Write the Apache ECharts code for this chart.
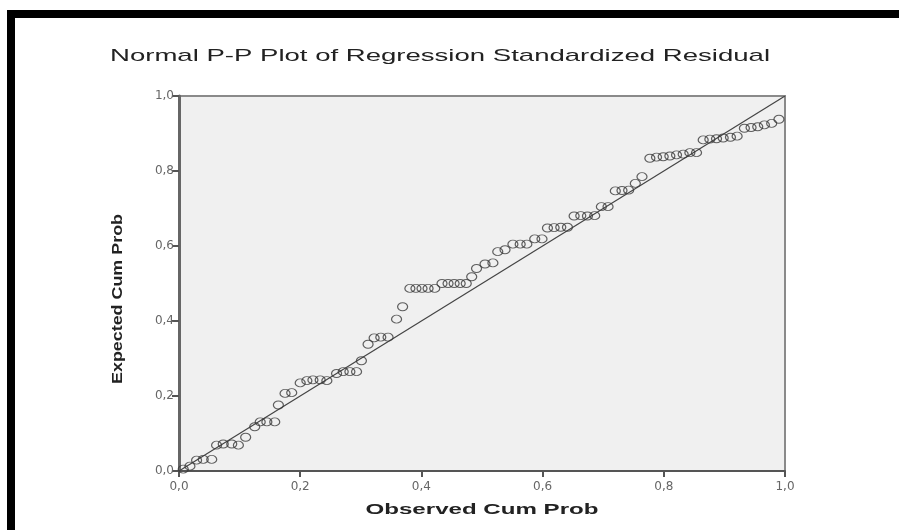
<!DOCTYPE html>
<html><head><meta charset="utf-8">
<script src="https://cdn.jsdelivr.net/npm/echarts@6/dist/echarts.min.js"></script>
<style>html,body{margin:0;padding:0;background:#fff}#c{width:899px;height:530px}</style>
</head><body><div id="c"></div>
<script>
const titleText = 'Normal P-P Plot of Regression Standardized Residual';
const xName = 'Observed Cum Prob';
const yName = 'Expected Cum Prob';
const tickValues = [0, 0.2, 0.4, 0.6, 0.8, 1.0];
const tickLabels = ['0,0', '0,2', '0,4', '0,6', '0,8', '1,0'];
const observed = [
 0.007,0.018,0.029,0.040,0.054,0.062,0.073,0.087,0.098,0.110,
 0.125,0.134,0.145,0.158,0.164,0.175,0.186,0.200,0.211,0.221,
 0.233,0.244,0.260,0.271,0.282,0.293,0.301,0.312,0.322,0.333,
 0.345,0.359,0.369,0.381,0.391,0.401,0.411,0.422,0.434,0.444,
 0.454,0.464,0.474,0.483,0.491,0.505,0.518,0.526,0.538,0.551,
 0.563,0.574,0.587,0.599,0.608,0.619,0.630,0.641,0.652,0.663,
 0.674,0.686,0.697,0.708,0.720,0.731,0.742,0.753,0.764,0.777,
 0.788,0.799,0.810,0.821,0.832,0.843,0.854,0.865,0.876,0.887,
 0.898,0.910,0.921,0.933,0.944,0.955,0.966,0.978,0.990
];
const expected = [
 0.005,0.013,0.029,0.031,0.031,0.069,0.072,0.072,0.069,0.090,
 0.118,0.131,0.131,0.131,0.176,0.207,0.209,0.235,0.241,0.243,
 0.243,0.241,0.260,0.265,0.265,0.265,0.294,0.338,0.355,0.357,
 0.357,0.405,0.438,0.487,0.487,0.487,0.487,0.487,0.500,0.500,
 0.500,0.500,0.500,0.518,0.540,0.552,0.555,0.585,0.590,0.605,
 0.605,0.605,0.619,0.619,0.648,0.649,0.650,0.650,0.680,0.681,
 0.680,0.681,0.705,0.705,0.747,0.748,0.749,0.767,0.785,0.834,
 0.837,0.838,0.840,0.843,0.845,0.849,0.849,0.883,0.885,0.886,
 0.888,0.890,0.893,0.914,0.916,0.918,0.923,0.927,0.938
];
const refLine = [[0, 0], [1, 1]];

const points = observed.map((x, i) => [x, expected[i]]);

function measure(font, text) {
  const ctx = document.createElement('canvas').getContext('2d');
  ctx.font = font;
  return ctx.measureText(text).width;
}
const titleFont = '17px "Liberation Sans", Arial, sans-serif';
const nameFont = 'bold 15px "Liberation Sans", Arial, sans-serif';
const yNameFont = 'bold 14px "Liberation Sans", Arial, sans-serif';
const titleScale = 660 / measure(titleFont, titleText);
const xNameScale = 233 / measure(nameFont, xName);
const yNameScale = 170 / measure(yNameFont, yName);

const fmt = v => tickLabels[tickValues.findIndex(t => Math.abs(t - v) < 1e-6)];

const chart = echarts.init(document.getElementById('c'));
chart.setOption({
  animation: false,
  backgroundColor: '#ffffff',
  grid: { left: 179, right: 114, top: 96, bottom: 59, show: true,
          backgroundColor: '#f0f0f0', borderColor: '#8a8a8a', borderWidth: 2 },
  xAxis: {
    type: 'value', min: 0, max: 1, interval: 0.2,
    splitLine: { show: false },
    axisLine: { show: true, lineStyle: { color: '#555', width: 2 } },
    axisTick: { show: true, length: 6, lineStyle: { color: '#555', width: 2 } },
    axisLabel: { color: '#666', fontSize: 12, margin: 10, fontFamily: 'DejaVu Sans', formatter: fmt }
  },
  yAxis: {
    type: 'value', min: 0, max: 1, interval: 0.2,
    splitLine: { show: false },
    axisLine: { show: true, lineStyle: { color: '#666', width: 3 } },
    axisTick: { show: true, length: 7, lineStyle: { color: '#555', width: 2 } },
    axisLabel: { color: '#666', fontSize: 12, margin: 5, fontFamily: 'DejaVu Sans', formatter: fmt }
  },
  series: [
    { type: 'line', data: refLine, symbol: 'none', silent: true,
      lineStyle: { color: '#444', width: 1.2 }, z: 3 },
    { type: 'scatter', data: points, symbol: 'circle', symbolSize: [10, 8],
      itemStyle: { color: 'rgba(0,0,0,0)', borderColor: '#3a3a3a', borderWidth: 1.1 }, z: 4 }
  ],
  graphic: [
    { type: 'text', x: 440, y: 56, scaleX: titleScale, z: 10,
      style: { text: titleText, font: titleFont, fill: '#222',
               align: 'center', verticalAlign: 'middle', textAlign: 'center', textVerticalAlign: 'middle' } },
    { type: 'text', x: 482, y: 510, scaleX: xNameScale, z: 10,
      style: { text: xName, font: nameFont, fill: '#222',
               align: 'center', verticalAlign: 'middle', textAlign: 'center', textVerticalAlign: 'middle' } },
    { type: 'text', x: 118, y: 299, rotation: Math.PI / 2, scaleX: yNameScale, scaleY: 1.1, z: 10,
      style: { text: yName, font: yNameFont, fill: '#222',
               align: 'center', verticalAlign: 'middle', textAlign: 'center', textVerticalAlign: 'middle' } },
    { type: 'rect', shape: { x: 7, y: 10, width: 892, height: 8 }, style: { fill: '#000' }, z: 20 },
    { type: 'rect', shape: { x: 7, y: 10, width: 8, height: 520 }, style: { fill: '#000' }, z: 20 }
  ]
});
</script></body></html>
